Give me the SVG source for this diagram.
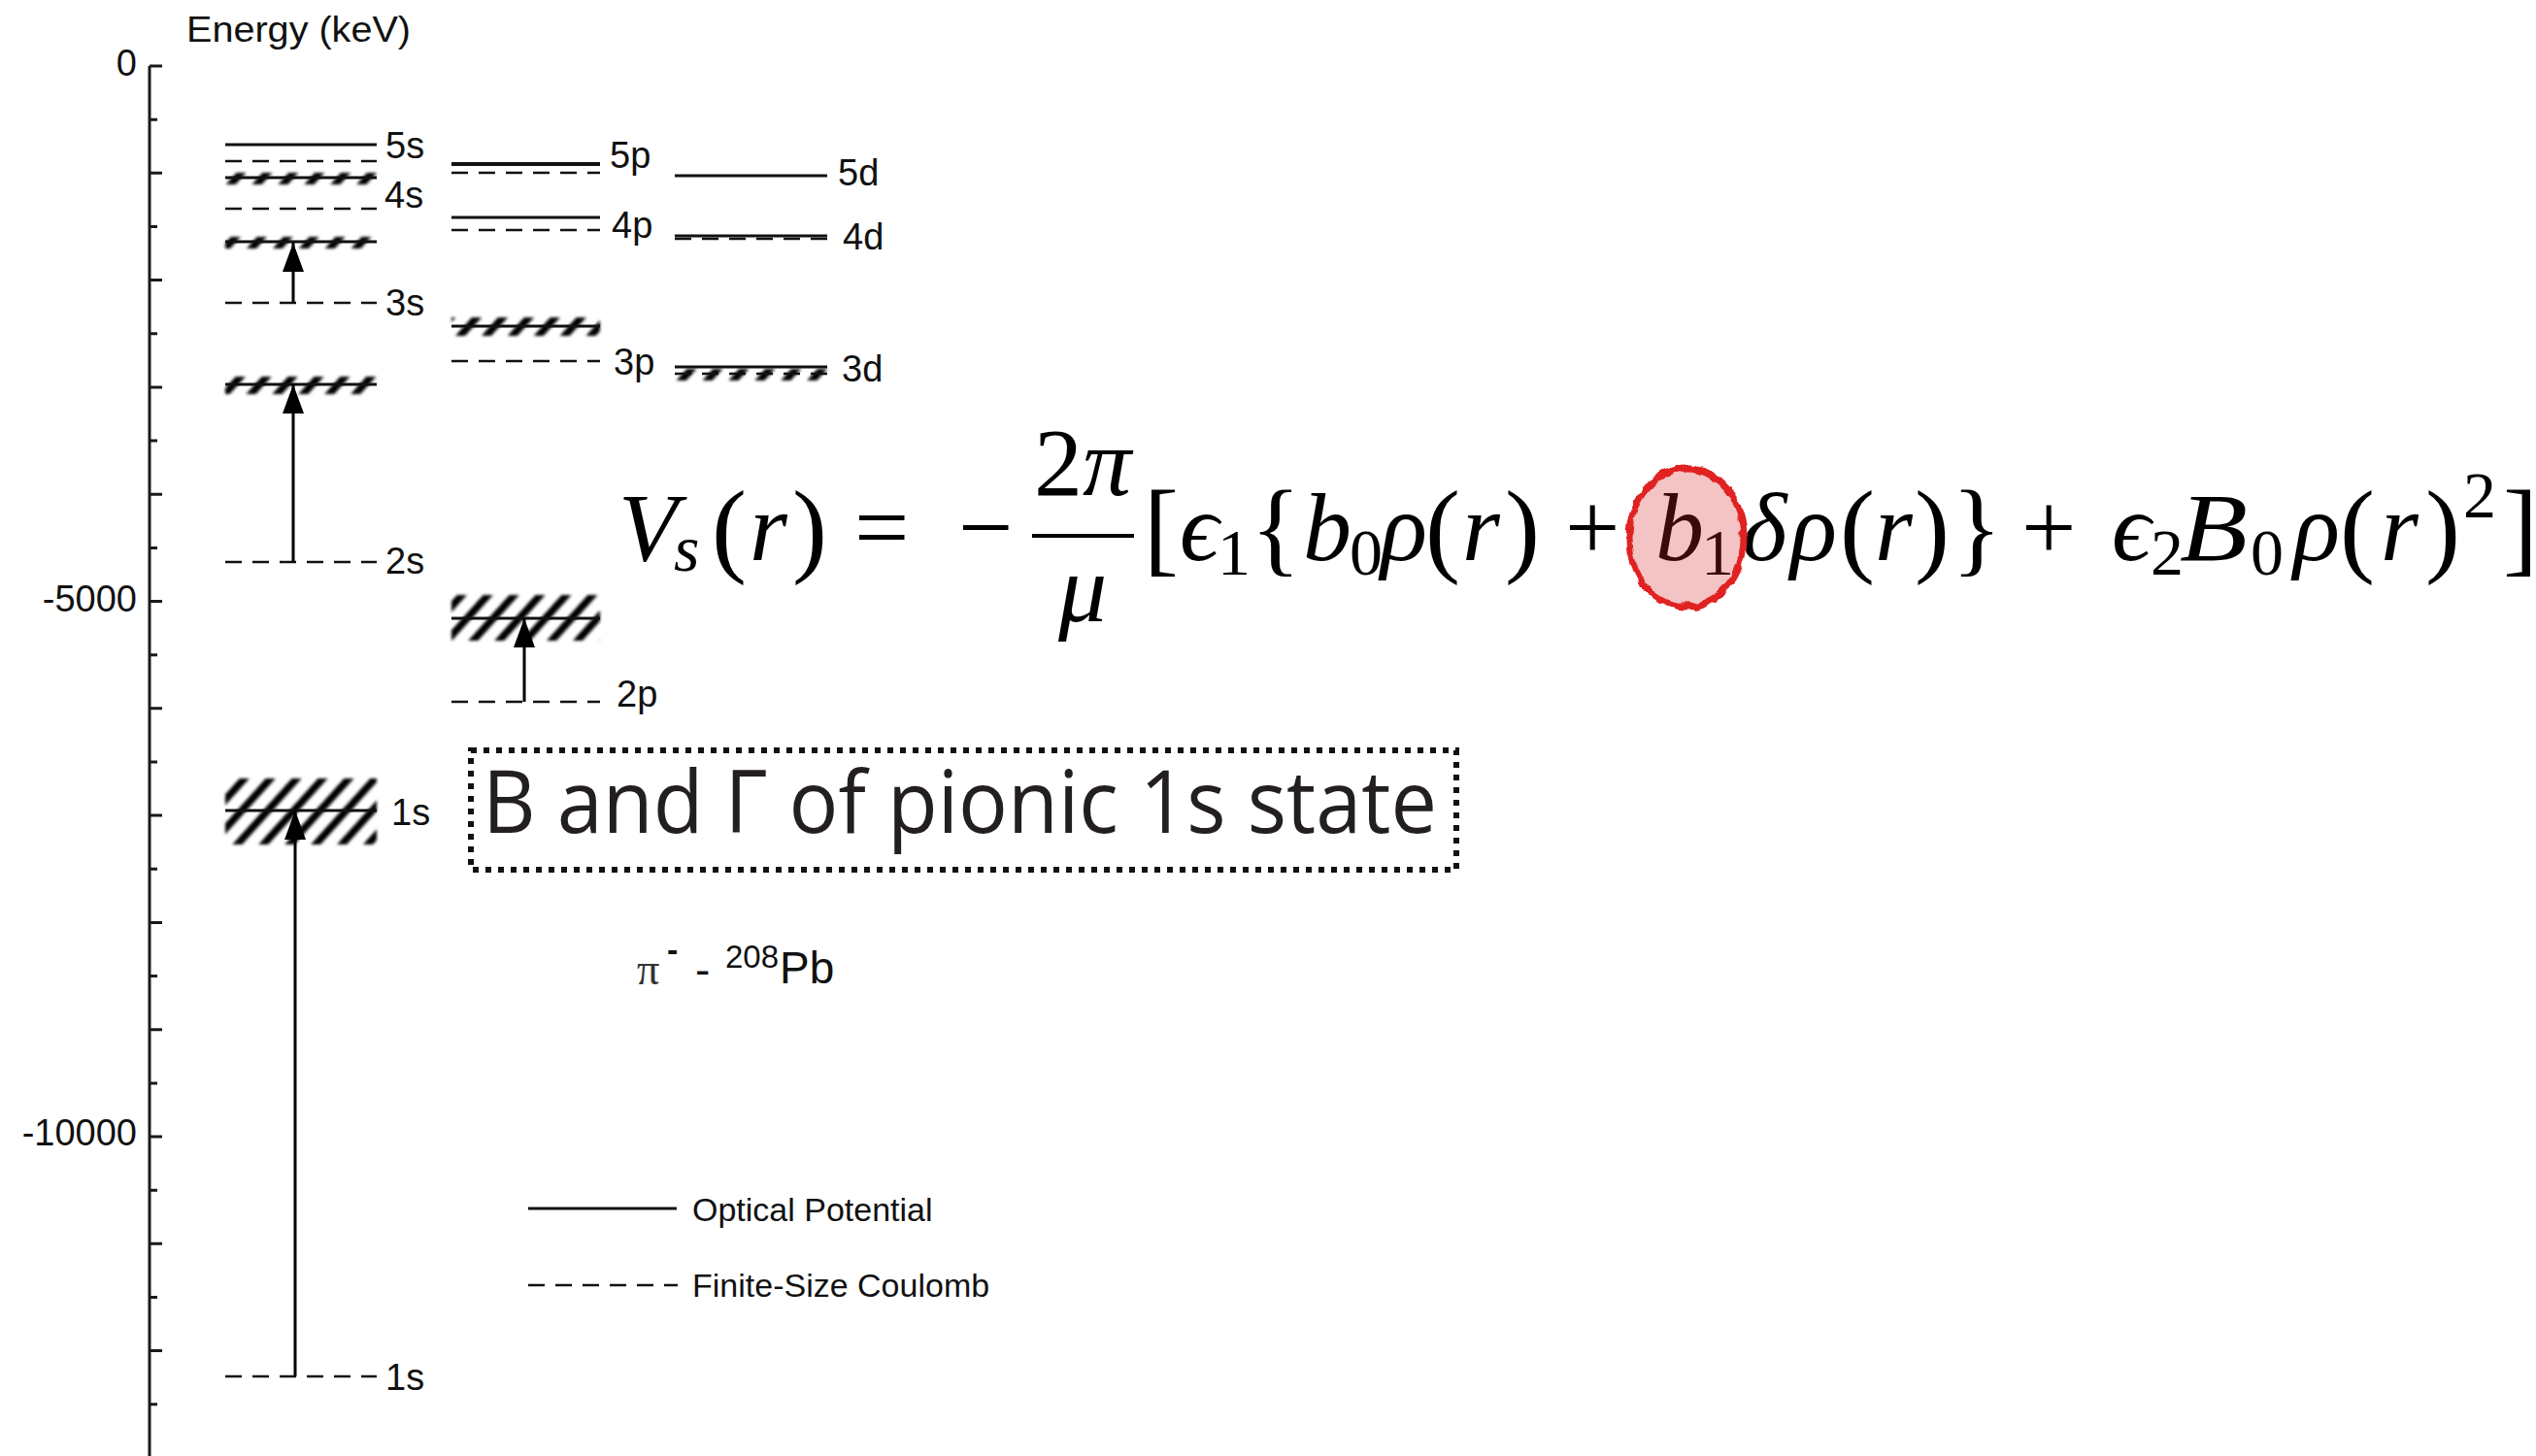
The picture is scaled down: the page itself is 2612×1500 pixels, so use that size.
<svg xmlns="http://www.w3.org/2000/svg" width="2612" height="1500" viewBox="0 0 2612 1500">
<style>
  .bg{fill:#fff}
  .ax{stroke:#1a1a1a;stroke-width:3;fill:none}
  .lvl{stroke:#111;stroke-width:3;fill:none}
  .dash{stroke-dasharray:17 11;stroke-width:2.6}
  .thick{stroke-width:4}
  .band{fill:url(#hatch);filter:url(#soft)}
  .lab{font-family:"Liberation Sans",Arial,sans-serif;font-size:38px;fill:#111}
  .tick{font-family:"Liberation Sans",Arial,sans-serif;font-size:38px;fill:#111;text-anchor:end}
  .leg{font-family:"Liberation Sans",Arial,sans-serif;font-size:34px;fill:#111}
  .arr{stroke:#000;stroke-width:3;fill:none;marker-end:url(#head)}
  .eq{font-family:"Liberation Serif","DejaVu Serif",serif;font-size:100px;fill:#000}
  .it{font-style:italic}
  .sub{font-size:68px}
  .par{font-size:108px}
  .box{fill:none;stroke:#111;stroke-width:6;stroke-dasharray:6 7}
  .boxt{font-family:"Open Sans","Noto Sans",sans-serif;font-size:90px;fill:#231f20}
</style>
<defs>
  <pattern id="hatch" patternUnits="userSpaceOnUse" width="20" height="20" patternTransform="rotate(42)">
    <rect x="0" y="0" width="7.5" height="20" fill="#000"/>
  </pattern>
  <filter id="soft" x="-5%" y="-30%" width="110%" height="160%">
    <feGaussianBlur stdDeviation="1.6"/>
  </filter>
  <filter id="rough" x="-20%" y="-20%" width="140%" height="140%">
    <feTurbulence type="fractalNoise" baseFrequency="0.09" numOctaves="2" seed="3" result="n"/>
    <feDisplacementMap in="SourceGraphic" in2="n" scale="7" xChannelSelector="R" yChannelSelector="G"/>
  </filter>
  <marker id="head" viewBox="0 0 30 22" refX="30" refY="11" markerWidth="30" markerHeight="22" markerUnits="userSpaceOnUse" orient="auto">
    <path d="M0,0 L30,11 L0,22 z" fill="#000"/>
  </marker>
</defs>
<rect class="bg" x="0" y="0" width="2612" height="1500"/>

<g id="axis">
  <text x="192" y="43" font-family="Liberation Sans, Arial, sans-serif" font-size="36" fill="#111" textLength="231" lengthAdjust="spacingAndGlyphs">Energy (keV)</text>
  <line class="ax" x1="154" y1="68" x2="154" y2="1500"/>
  <path class="ax" d="M154,68H167 M154,123.2H162 M154,178.3H167 M154,233.5H162 M154,288.6H167 M154,343.8H162 M154,398.9H167 M154,454.1H162 M154,509.2H167 M154,564.4H162 M154,619.5H167 M154,674.7H162 M154,729.8H167 M154,785H162 M154,840.1H167 M154,895.3H162 M154,950.4H167 M154,1005.6H162 M154,1060.7H167 M154,1115.9H162 M154,1171H167 M154,1226.2H162 M154,1281.3H167 M154,1336.5H162 M154,1391.6H167 M154,1446.8H162"/>
  <text class="tick" x="141" y="78">0</text>
  <text class="tick" x="141" y="630">-5000</text>
  <text class="tick" x="141" y="1180">-10000</text>
</g>

<g id="s-levels">
  <g id="level-5s">
    <line class="lvl" x1="232" y1="149" x2="388" y2="149"/>
    <line class="lvl dash" x1="232" y1="166" x2="388" y2="166"/>
    <text class="lab" x="397" y="163">5s</text>
  </g>
  <g id="level-4s">
    <rect class="band" x="232" y="178" width="156" height="12"/>
    <line class="lvl" x1="232" y1="183" x2="388" y2="183"/>
    <line class="lvl dash" x1="232" y1="215" x2="388" y2="215"/>
    <text class="lab" x="396" y="214">4s</text>
  </g>
  <g id="level-3s">
    <rect class="band" x="232" y="244" width="156" height="12"/>
    <line class="lvl" x1="232" y1="249" x2="388" y2="249"/>
    <line class="lvl dash" x1="232" y1="312" x2="388" y2="312"/>
    <text class="lab" x="397" y="325">3s</text>
  </g>
  <g id="level-2s">
    <rect class="band" x="232" y="388" width="156" height="18"/>
    <line class="lvl" x1="232" y1="396" x2="388" y2="396"/>
    <line class="lvl dash" x1="232" y1="579" x2="388" y2="579"/>
    <text class="lab" x="397" y="591">2s</text>
  </g>
  <g id="level-1s">
    <rect class="band" x="232" y="802" width="156" height="68"/>
    <line class="lvl" x1="232" y1="835" x2="388" y2="835"/>
    <text class="lab" x="403" y="850">1s</text>
    <line class="lvl dash" x1="232" y1="1418" x2="388" y2="1418"/>
    <text class="lab" x="397" y="1432">1s</text>
  </g>
</g>

<g id="p-levels">
  <g id="level-5p">
    <line class="lvl thick" x1="465" y1="169" x2="618" y2="169"/>
    <line class="lvl dash" x1="465" y1="178" x2="618" y2="178"/>
    <text class="lab" x="628" y="173">5p</text>
  </g>
  <g id="level-4p">
    <line class="lvl" x1="465" y1="224" x2="618" y2="224"/>
    <line class="lvl dash" x1="465" y1="237" x2="618" y2="237"/>
    <text class="lab" x="630" y="245">4p</text>
  </g>
  <g id="level-3p">
    <rect class="band" x="465" y="327" width="153" height="19"/>
    <line class="lvl" x1="465" y1="336" x2="618" y2="336"/>
    <line class="lvl dash" x1="465" y1="372" x2="618" y2="372"/>
    <text class="lab" x="632" y="386">3p</text>
  </g>
  <g id="level-2p">
    <rect class="band" x="465" y="613" width="153" height="47"/>
    <line class="lvl" x1="465" y1="637" x2="618" y2="637"/>
    <line class="lvl dash" x1="465" y1="723" x2="618" y2="723"/>
    <text class="lab" x="635" y="728">2p</text>
  </g>
</g>

<g id="d-levels">
  <g id="level-5d">
    <line class="lvl" x1="695" y1="181" x2="852" y2="181"/>
    <text class="lab" x="863" y="191">5d</text>
  </g>
  <g id="level-4d">
    <line class="lvl" x1="695" y1="243" x2="852" y2="243"/>
    <line class="lvl dash" x1="695" y1="246" x2="852" y2="246"/>
    <text class="lab" x="868" y="257">4d</text>
  </g>
  <g id="level-3d">
    <rect class="band" x="695" y="380" width="157" height="12"/>
    <line class="lvl" x1="695" y1="378" x2="852" y2="378"/>
    <line class="lvl dash" x1="695" y1="385" x2="852" y2="385"/>
    <text class="lab" x="867" y="393">3d</text>
  </g>
</g>

<g id="connectors">
  <line class="arr" x1="302" y1="312" x2="302" y2="250"/>
  <line class="arr" x1="302" y1="579" x2="302" y2="396"/>
  <line class="arr" x1="540" y1="723" x2="540" y2="637"/>
  <line class="arr" x1="304" y1="1418" x2="304" y2="835"/>
</g>

<g id="equation">
  <text class="eq" y="577">
    <tspan class="it" x="637">V</tspan>
    <tspan class="it sub" x="694" y="588">s</tspan>
    <tspan class="par" x="733" y="580">(</tspan>
    <tspan class="it" x="772" y="577">r</tspan>
    <tspan class="par" x="816" y="580">)</tspan>
    <tspan x="880" y="577">=</tspan>
    <tspan x="987">−</tspan>
    <tspan class="par" x="1178" y="580">[</tspan>
    <tspan class="it" x="1215" y="577">ϵ</tspan>
    <tspan class="sub" x="1254" y="592">1</tspan>
    <tspan class="par" x="1288" y="580">{</tspan>
    <tspan class="it" x="1342" y="577">b</tspan>
    <tspan class="sub" x="1390" y="592">0</tspan>
    <tspan class="it" x="1422" y="577">ρ</tspan>
    <tspan class="par" x="1468" y="580">(</tspan>
    <tspan class="it" x="1506" y="577">r</tspan>
    <tspan class="par" x="1550" y="580">)</tspan>
    <tspan x="1612" y="577">+</tspan>
    <tspan class="it" x="1705">b</tspan>
    <tspan class="sub" x="1752" y="592">1</tspan>
    <tspan class="it" x="1794" y="577">δ</tspan>
    <tspan class="it" x="1844">ρ</tspan>
    <tspan class="par" x="1895" y="580">(</tspan>
    <tspan class="it" x="1931" y="577">r</tspan>
    <tspan class="par" x="1972" y="580">)</tspan>
    <tspan class="par" x="2010" y="580">}</tspan>
    <tspan x="2082" y="577">+</tspan>
    <tspan class="it" x="2175">ϵ</tspan>
    <tspan class="sub" x="2215" y="592">2</tspan>
    <tspan class="sub" x="2318" y="592">0</tspan>
    <tspan class="it" x="2362" y="577">ρ</tspan>
    <tspan class="par" x="2410" y="580">(</tspan>
    <tspan class="it" x="2452" y="577">r</tspan>
    <tspan class="par" x="2498" y="580">)</tspan>
    <tspan class="sub" x="2537" y="533">2</tspan>
    <tspan class="par" x="2578" y="580">]</tspan>
  </text>
  <text class="eq it" x="2245" y="577" textLength="70" lengthAdjust="spacingAndGlyphs">B</text>
  <text class="eq" x="1115" y="510" text-anchor="middle" font-size="88"><tspan>2</tspan><tspan class="it">π</tspan></text>
  <line x1="1063" y1="552" x2="1168" y2="552" stroke="#000" stroke-width="4"/>
  <text class="eq it" x="1115" y="640" text-anchor="middle" font-size="88">μ</text>
  <g id="highlight-b1" filter="url(#rough)">
    <ellipse cx="1737" cy="554" rx="59" ry="71" fill="#d81818" fill-opacity="0.27" stroke="#e02020" stroke-width="7"/>
  </g>
</g>

<g id="title-box">
  <rect class="box" x="485" y="773" width="1015" height="123"/>
  <text class="boxt" x="497" y="858" textLength="983" lengthAdjust="spacingAndGlyphs">B and Γ of pionic 1s state</text>
</g>

<g id="system-label">
  <text x="656" y="1014" font-family="Liberation Serif, serif" font-size="46" fill="#333">π</text>
  <text x="687" y="990" font-family="Liberation Sans, Arial, sans-serif" font-size="34" font-weight="bold" fill="#111">-</text>
  <text x="716" y="1015" font-family="Liberation Sans, Arial, sans-serif" font-size="46" fill="#111">-</text>
  <text x="747" y="997" font-family="Liberation Sans, Arial, sans-serif" font-size="33" fill="#111">208</text>
  <text x="803" y="1013" font-family="Liberation Sans, Arial, sans-serif" font-size="46" fill="#111">Pb</text>
</g>

<g id="legend">
  <line class="lvl" x1="544" y1="1245" x2="697" y2="1245"/>
  <text class="leg" x="713" y="1258">Optical Potential</text>
  <line class="lvl dash" x1="544" y1="1324" x2="698" y2="1324"/>
  <text class="leg" x="713" y="1336">Finite-Size Coulomb</text>
</g>
</svg>
